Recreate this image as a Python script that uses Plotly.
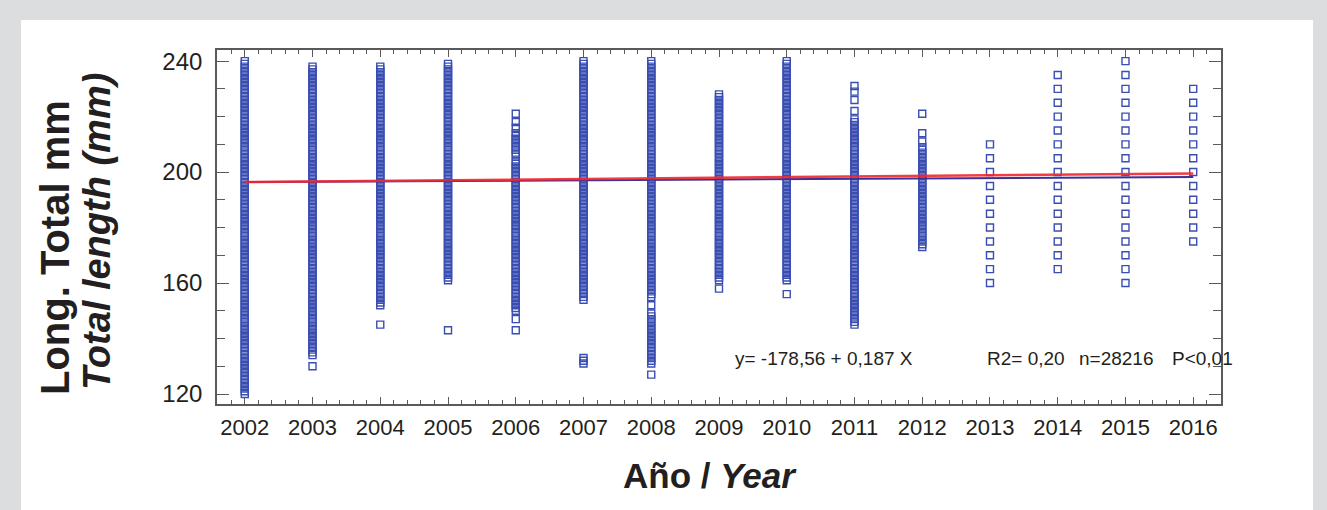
import plotly.graph_objects as go

# ---------------- data (total length, mm, observed per year) ----------------
years = [2002, 2003, 2004, 2005, 2006, 2007, 2008, 2009, 2010, 2011, 2012, 2013, 2014, 2015, 2016]

len_2002 = [120, 121, 122, 123, 124, 125, 126, 127, 128, 129,
            130, 131, 132, 133, 134, 135, 136, 137, 138, 139,
            140, 141, 142, 143, 144, 145, 146, 147, 148, 149,
            150, 151, 152, 153, 154, 155, 156, 157, 158, 159,
            160, 161, 162, 163, 164, 165, 166, 167, 168, 169,
            170, 171, 172, 173, 174, 175, 176, 177, 178, 179,
            180, 181, 182, 183, 184, 185, 186, 187, 188, 189,
            190, 191, 192, 193, 194, 195, 196, 197, 198, 199,
            200, 201, 202, 203, 204, 205, 206, 207, 208, 209,
            210, 211, 212, 213, 214, 215, 216, 217, 218, 219,
            220, 221, 222, 223, 224, 225, 226, 227, 228, 229,
            230, 231, 232, 233, 234, 235, 236, 237, 238, 239, 240]
len_2003 = [130, 134, 135, 136, 137, 138, 139,
            140, 141, 142, 143, 144, 145, 146, 147, 148, 149,
            150, 151, 152, 153, 154, 155, 156, 157, 158, 159,
            160, 161, 162, 163, 164, 165, 166, 167, 168, 169,
            170, 171, 172, 173, 174, 175, 176, 177, 178, 179,
            180, 181, 182, 183, 184, 185, 186, 187, 188, 189,
            190, 191, 192, 193, 194, 195, 196, 197, 198, 199,
            200, 201, 202, 203, 204, 205, 206, 207, 208, 209,
            210, 211, 212, 213, 214, 215, 216, 217, 218, 219,
            220, 221, 222, 223, 224, 225, 226, 227, 228, 229,
            230, 231, 232, 233, 234, 235, 236, 237, 238]
len_2004 = [145, 152, 153, 154, 155, 156, 157, 158, 159,
            160, 161, 162, 163, 164, 165, 166, 167, 168, 169,
            170, 171, 172, 173, 174, 175, 176, 177, 178, 179,
            180, 181, 182, 183, 184, 185, 186, 187, 188, 189,
            190, 191, 192, 193, 194, 195, 196, 197, 198, 199,
            200, 201, 202, 203, 204, 205, 206, 207, 208, 209,
            210, 211, 212, 213, 214, 215, 216, 217, 218, 219,
            220, 221, 222, 223, 224, 225, 226, 227, 228, 229,
            230, 231, 232, 233, 234, 235, 236, 237, 238]
len_2005 = [143, 161, 162, 163, 164, 165, 166, 167, 168, 169,
            170, 171, 172, 173, 174, 175, 176, 177, 178, 179,
            180, 181, 182, 183, 184, 185, 186, 187, 188, 189,
            190, 191, 192, 193, 194, 195, 196, 197, 198, 199,
            200, 201, 202, 203, 204, 205, 206, 207, 208, 209,
            210, 211, 212, 213, 214, 215, 216, 217, 218, 219,
            220, 221, 222, 223, 224, 225, 226, 227, 228, 229,
            230, 231, 232, 233, 234, 235, 236, 237, 238, 239]
len_2006 = [143, 147, 150, 151, 152, 153, 154, 155, 156, 157, 158, 159,
            160, 161, 162, 163, 164, 165, 166, 167, 168, 169,
            170, 171, 172, 173, 174, 175, 176, 177, 178, 179,
            180, 181, 182, 183, 184, 185, 186, 187, 188, 189,
            190, 191, 192, 193, 194, 195, 196, 197, 198, 199,
            200, 201, 202, 203, 204, 206, 207, 208, 209,
            210, 211, 212, 213, 214, 216, 218, 221]
len_2007 = [131, 132, 133, 154, 155, 156, 157, 158, 159,
            160, 161, 162, 163, 164, 165, 166, 167, 168, 169,
            170, 171, 172, 173, 174, 175, 176, 177, 178, 179,
            180, 181, 182, 183, 184, 185, 186, 187, 188, 189,
            190, 191, 192, 193, 194, 195, 196, 197, 198, 199,
            200, 201, 202, 203, 204, 205, 206, 207, 208, 209,
            210, 211, 212, 213, 214, 215, 216, 217, 218, 219,
            220, 221, 222, 223, 224, 225, 226, 227, 228, 229,
            230, 231, 232, 233, 234, 235, 236, 237, 238, 239, 240]
len_2008 = [127, 131, 132, 133, 134, 135, 136, 137, 138, 139,
            140, 141, 142, 143, 144, 145, 146, 147, 148, 149,
            152, 155, 156, 157, 158, 159,
            160, 161, 162, 163, 164, 165, 166, 167, 168, 169,
            170, 171, 172, 173, 174, 175, 176, 177, 178, 179,
            180, 181, 182, 183, 184, 185, 186, 187, 188, 189,
            190, 191, 192, 193, 194, 195, 196, 197, 198, 199,
            200, 201, 202, 203, 204, 205, 206, 207, 208, 209,
            210, 211, 212, 213, 214, 215, 216, 217, 218, 219,
            220, 221, 222, 223, 224, 225, 226, 227, 228, 229,
            230, 231, 232, 233, 234, 235, 236, 237, 238, 239, 240]
len_2009 = [158, 161, 162, 163, 164, 165, 166, 167, 168, 169,
            170, 171, 172, 173, 174, 175, 176, 177, 178, 179,
            180, 181, 182, 183, 184, 185, 186, 187, 188, 189,
            190, 191, 192, 193, 194, 195, 196, 197, 198, 199,
            200, 201, 202, 203, 204, 205, 206, 207, 208, 209,
            210, 211, 212, 213, 214, 215, 216, 217, 218, 219,
            220, 221, 222, 223, 224, 225, 226, 227, 228]
len_2010 = [156, 161, 162, 163, 164, 165, 166, 167, 168, 169,
            170, 171, 172, 173, 174, 175, 176, 177, 178, 179,
            180, 181, 182, 183, 184, 185, 186, 187, 188, 189,
            190, 191, 192, 193, 194, 195, 196, 197, 198, 199,
            200, 201, 202, 203, 204, 205, 206, 207, 208, 209,
            210, 211, 212, 213, 214, 215, 216, 217, 218, 219,
            220, 221, 222, 223, 224, 225, 226, 227, 228, 229,
            230, 231, 232, 233, 234, 235, 236, 237, 238, 239, 240]
len_2011 = [145, 146, 147, 148, 149,
            150, 151, 152, 153, 154, 155, 156, 157, 158, 159,
            160, 161, 162, 163, 164, 165, 166, 167, 168, 169,
            170, 171, 172, 173, 174, 175, 176, 177, 178, 179,
            180, 181, 182, 183, 184, 185, 186, 187, 188, 189,
            190, 191, 192, 193, 194, 195, 196, 197, 198, 199,
            200, 201, 202, 203, 204, 205, 206, 207, 208, 209,
            210, 211, 212, 213, 214, 215, 216, 217, 218, 219,
            222, 226, 229, 231]
len_2012 = [173, 174, 175, 176, 177, 178, 179,
            180, 181, 182, 183, 184, 185, 186, 187, 188, 189,
            190, 191, 192, 193, 194, 195, 196, 197, 198, 199,
            200, 201, 202, 203, 204, 205, 206, 207, 208, 209,
            211, 214, 221]
len_2013 = [160, 165, 170, 175, 180, 185, 190, 195, 200, 205, 210]
len_2014 = [165, 170, 175, 180, 185, 190, 195, 200, 205, 210, 215, 220, 225, 230, 235]
len_2015 = [160, 165, 170, 175, 180, 185, 190, 195, 200, 205, 210, 215, 220, 225, 230, 235, 240]
len_2016 = [175, 180, 185, 190, 195, 200, 205, 210, 215, 220, 225, 230]

lengths_by_year = [len_2002, len_2003, len_2004, len_2005, len_2006, len_2007, len_2008,
                   len_2009, len_2010, len_2011, len_2012, len_2013, len_2014, len_2015, len_2016]

# fitted lines (values read at the ends of the plotted segments)
fit_years = [2002, 2016]
fit_red = [196.4, 199.5]
fit_blue = [196.4, 198.2]

x_tick_labels = [str(y) for y in years]
y_tick_vals = [120, 160, 200, 240]

stats_texts = ["y= -178,56 + 0,187 X", "R2= 0,20", "n=28216", "P<0,01"]
y_title_1 = "Long. Total mm"
y_title_2 = "Total length (mm)"
x_title_1 = "Año /"
x_title_2 = "Year"

# ---------------- figure ----------------
W, H = 1327, 510
L, R, T, B = 217, 1221, 50, 404
pw, ph = R - L, B - T


def px(xp):
    return (xp - L) / pw


def py(yp):
    return (B - yp) / ph


xs, ys = [], []
for yr, vals in zip(years, lengths_by_year):
    xs.extend([yr] * len(vals))
    ys.extend(vals)

fig = go.Figure()
fig.add_trace(go.Scatter(
    x=xs, y=ys, mode="markers",
    marker=dict(symbol="square-open", size=7, color="rgb(58,78,178)",
                line=dict(width=1.4, color="rgb(58,78,178)")),
    hoverinfo="skip", showlegend=False))
fig.add_trace(go.Scatter(
    x=fit_years, y=fit_blue, mode="lines",
    line=dict(color="rgb(60,50,150)", width=2), hoverinfo="skip", showlegend=False))
fig.add_trace(go.Scatter(
    x=fit_years, y=fit_red, mode="lines",
    line=dict(color="rgba(240,40,45,0.9)", width=2.5), hoverinfo="skip", showlegend=False))

font_main = "Liberation Sans, Arial, sans-serif"
axis_col = "#5a5a5a"

fig.update_layout(
    width=W, height=H,
    margin=dict(l=L, r=W - R, t=T, b=H - B, pad=0),
    paper_bgcolor="#dcdddf",
    plot_bgcolor="white",
    font=dict(family=font_main, color="#231f20"),
    showlegend=False,
    xaxis=dict(
        range=[2001.59, 2016.41], tickmode="array", tickvals=years, ticktext=x_tick_labels,
        ticks="inside", ticklen=7, tickwidth=1.3, tickcolor=axis_col,
        minor=dict(ticks="inside", dtick=0.2, tick0=2002, ticklen=4, tickwidth=1.2,
                   tickcolor=axis_col, showgrid=False),
        showline=True, linecolor=axis_col, linewidth=1.6, mirror="ticks",
        showgrid=False, zeroline=False,
        tickfont=dict(size=22, family=font_main, color="#231f20"),
        ticklabelstandoff=3,
    ),
    yaxis=dict(
        range=[116.4, 244], tickmode="array", tickvals=y_tick_vals,
        ticks="inside", ticklen=12, tickwidth=1.3, tickcolor=axis_col,
        minor=dict(ticks="inside", dtick=10, tick0=120, ticklen=8, tickwidth=1.2,
                   tickcolor=axis_col, showgrid=False),
        showline=True, linecolor=axis_col, linewidth=1.6, mirror="ticks",
        showgrid=False, zeroline=False,
        tickfont=dict(size=24, family=font_main, color="#231f20"),
        ticklabelstandoff=8,
    ),
)

# white panel
fig.add_shape(type="rect", xref="paper", yref="paper",
              x0=px(21), x1=px(1313), y0=py(515), y1=py(20),
              fillcolor="white", line=dict(width=0), layer="below")

# axis titles
fig.add_annotation(xref="paper", yref="paper", x=px(55), y=py(248), textangle=-90,
                   text="<b>" + y_title_1 + "</b>", showarrow=False,
                   xanchor="center", yanchor="middle",
                   font=dict(size=40, family=font_main, color="#231f20"))
fig.add_annotation(xref="paper", yref="paper", x=px(97), y=py(232), textangle=-90,
                   text="<b><i>" + y_title_2 + "</i></b>", showarrow=False,
                   xanchor="center", yanchor="middle",
                   font=dict(size=38, family=font_main, color="#231f20"))
fig.add_annotation(xref="paper", yref="paper", x=px(710), y=py(475),
                   text="<b>" + x_title_1 + " <i>" + x_title_2 + "</i></b>", showarrow=False,
                   xanchor="center", yanchor="middle",
                   font=dict(size=35, family=font_main, color="#231f20"))

# statistics text
for txt, xl in zip(stats_texts, [733, 985, 1077, 1170]):
    fig.add_annotation(xref="paper", yref="paper", x=px(xl), y=py(358), text=txt,
                       showarrow=False, xanchor="left", yanchor="middle",
                       font=dict(size=19, family=font_main, color="#231f20"))

fig.write_html("out.html", config={"displayModeBar": False},
               post_script="document.body.style.margin='0';")
